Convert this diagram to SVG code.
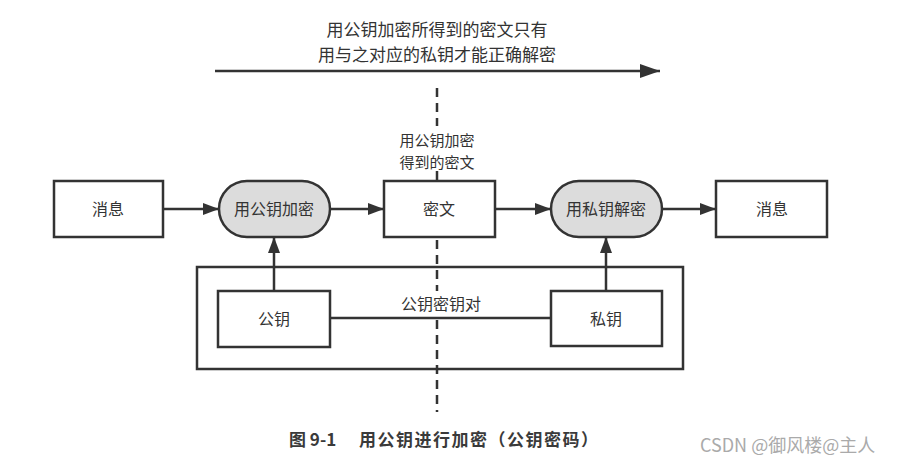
<svg xmlns="http://www.w3.org/2000/svg" width="903" height="468" viewBox="0 0 903 468">
<style>
.t{font-family:"Noto Sans CJK SC","Noto Sans",sans-serif;fill:#333;}
.box{fill:#fff;stroke:#333;stroke-width:2.5;}
.pill{fill:#dcdcdc;stroke:#333;stroke-width:2.5;}
.ln{stroke:#333;stroke-width:2.5;fill:none;}
.dash{stroke:#333;stroke-width:2.5;stroke-dasharray:9,6;}
.cap{font-family:"Noto Sans CJK SC","Noto Sans",sans-serif;fill:#3a3a3a;font-size:17px;font-weight:bold;}
</style>
<defs>
<marker id="ah" markerWidth="16" markerHeight="12" refX="16" refY="6" orient="auto" markerUnits="userSpaceOnUse">
<path d="M0,0 L16,6 L0,12 Z" fill="#333"/>
</marker>
<marker id="ahb" markerWidth="20" markerHeight="14" refX="20" refY="7" orient="auto" markerUnits="userSpaceOnUse">
<path d="M0,0 L20,7 L0,14 Z" fill="#333"/>
</marker>
</defs>
<rect width="903" height="468" fill="#fff"/>
<g id="topnote">
<text class="t" x="437" y="36" font-size="17" text-anchor="middle">用公钥加密所得到的密文只有</text>
<text class="t" x="437" y="61" font-size="17" text-anchor="middle">用与之对应的私钥才能正确解密</text>
</g>
<g id="keypair">
<rect class="box" x="197" y="267" width="486" height="102"/>
<text class="t" x="441" y="310" font-size="16" text-anchor="middle">公钥密钥对</text>
</g>
<g id="connectors">
<line class="ln" x1="215" y1="71" x2="660" y2="71" marker-end="url(#ahb)"/>
<line class="dash" x1="437" y1="88" x2="437" y2="126"/>
<line class="dash" x1="437" y1="171" x2="437" y2="181"/>
<line class="dash" x1="437" y1="240" x2="437" y2="291"/>
<line class="dash" x1="437" y1="320" x2="437" y2="412"/>
<line class="ln" x1="163" y1="209" x2="219" y2="209" marker-end="url(#ah)"/>
<line class="ln" x1="330" y1="209" x2="384" y2="209" marker-end="url(#ah)"/>
<line class="ln" x1="495" y1="209" x2="551" y2="209" marker-end="url(#ah)"/>
<line class="ln" x1="662" y1="209" x2="716" y2="209" marker-end="url(#ah)"/>
<line class="ln" x1="274" y1="291" x2="274" y2="237" marker-end="url(#ah)"/>
<line class="ln" x1="606" y1="291" x2="606" y2="237" marker-end="url(#ah)"/>
<line class="ln" x1="330" y1="318" x2="551" y2="318"/>
</g>
<g id="msg1">
<rect class="box" x="54" y="181" width="109" height="56"/>
<text class="t" x="108" y="215" font-size="16" text-anchor="middle">消息</text>
</g>
<g id="encrypt">
<rect class="pill" x="219" y="181" width="111" height="56" rx="28" ry="28"/>
<text class="t" x="274" y="215" font-size="16" text-anchor="middle">用公钥加密</text>
</g>
<g id="cipher">
<text class="t" x="437" y="146" font-size="15" text-anchor="middle">用公钥加密</text>
<text class="t" x="437" y="168" font-size="15" text-anchor="middle">得到的密文</text>
<rect class="box" x="384" y="181" width="111" height="56"/>
<text class="t" x="439" y="215" font-size="16" text-anchor="middle">密文</text>
</g>
<g id="decrypt">
<rect class="pill" x="551" y="181" width="111" height="56" rx="28" ry="28"/>
<text class="t" x="606" y="215" font-size="16" text-anchor="middle">用私钥解密</text>
</g>
<g id="msg2">
<rect class="box" x="716" y="181" width="111" height="56"/>
<text class="t" x="772" y="215" font-size="16" text-anchor="middle">消息</text>
</g>
<g id="pubkey">
<rect class="box" x="218" y="291" width="112" height="56"/>
<text class="t" x="274" y="325" font-size="16" text-anchor="middle">公钥</text>
</g>
<g id="privkey">
<rect class="box" x="551" y="291" width="111" height="55"/>
<text class="t" x="606" y="325" font-size="16" text-anchor="middle">私钥</text>
</g>
<g id="caption">
<text class="cap" x="289" y="446">图 9-1</text>
<text class="cap" x="359" y="446" letter-spacing="1.5">用公钥进行加密（公钥密码）</text>
<text x="700" y="452" font-size="18" fill="#aaa" font-family="'Noto Sans CJK SC',sans-serif">CSDN @御风楼@主人</text>
</g>
</svg>
